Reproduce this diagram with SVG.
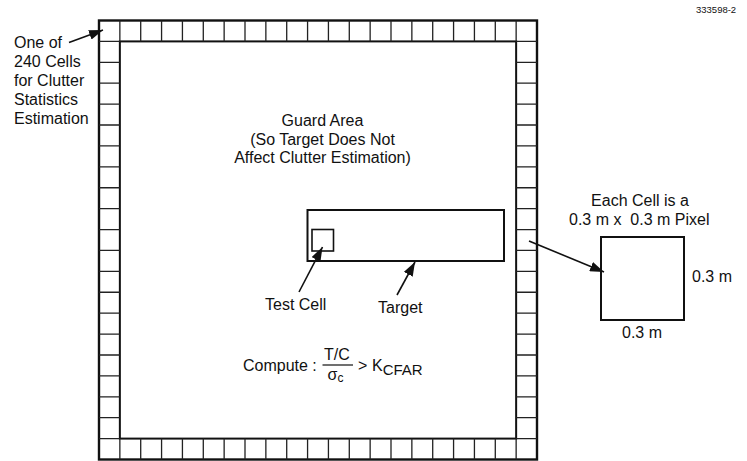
<svg xmlns="http://www.w3.org/2000/svg" width="747" height="461" viewBox="0 0 747 461">
<style>
text{font-family:"Liberation Sans",Arial,sans-serif;font-size:16px;fill:#111}
.box{fill:none;stroke:#111;stroke-width:2}
.div{fill:none;stroke:#222;stroke-width:1.3}
.arrow{fill:none;stroke:#111;stroke-width:1.6;marker-end:url(#ah)}
.pre{white-space:pre}
</style>
<defs>
<marker id="ah" markerUnits="userSpaceOnUse" markerWidth="14" markerHeight="10" refX="14" refY="5" orient="auto">
<path d="M0,0 L14,5 L0,10 z" fill="#111"/>
</marker>
</defs>
<rect width="747" height="461" fill="#fff"/>
<text x="696" y="13" style="font-size:9.5px">333598-2</text>

<g id="cell-border">
<rect x="99" y="20.5" width="438" height="439" fill="none" stroke="#111" stroke-width="2.4"/>
<rect x="119.86" y="41.4" width="396.28" height="397.2" class="box"/>
<path class="div" d="M119.86,20.5V41.4M140.71,20.5V41.4M161.57,20.5V41.4M182.43,20.5V41.4M203.29,20.5V41.4M224.14,20.5V41.4M245,20.5V41.4M265.86,20.5V41.4M286.71,20.5V41.4M307.57,20.5V41.4M328.43,20.5V41.4M349.29,20.5V41.4M370.14,20.5V41.4M391,20.5V41.4M411.86,20.5V41.4M432.71,20.5V41.4M453.57,20.5V41.4M474.43,20.5V41.4M495.29,20.5V41.4M516.14,20.5V41.4
M119.86,438.6V459.5M140.71,438.6V459.5M161.57,438.6V459.5M182.43,438.6V459.5M203.29,438.6V459.5M224.14,438.6V459.5M245,438.6V459.5M265.86,438.6V459.5M286.71,438.6V459.5M307.57,438.6V459.5M328.43,438.6V459.5M349.29,438.6V459.5M370.14,438.6V459.5M391,438.6V459.5M411.86,438.6V459.5M432.71,438.6V459.5M453.57,438.6V459.5M474.43,438.6V459.5M495.29,438.6V459.5M516.14,438.6V459.5
M99,41.4H119.86M99,62.31H119.86M99,83.21H119.86M99,104.12H119.86M99,125.02H119.86M99,145.93H119.86M99,166.83H119.86M99,187.74H119.86M99,208.64H119.86M99,229.55H119.86M99,250.45H119.86M99,271.36H119.86M99,292.26H119.86M99,313.17H119.86M99,334.07H119.86M99,354.98H119.86M99,375.88H119.86M99,396.79H119.86M99,417.69H119.86M99,438.6H119.86
M516.14,41.4H537M516.14,62.31H537M516.14,83.21H537M516.14,104.12H537M516.14,125.02H537M516.14,145.93H537M516.14,166.83H537M516.14,187.74H537M516.14,208.64H537M516.14,229.55H537M516.14,250.45H537M516.14,271.36H537M516.14,292.26H537M516.14,313.17H537M516.14,334.07H537M516.14,354.98H537M516.14,375.88H537M516.14,396.79H537M516.14,417.69H537M516.14,438.6H537"/>
</g>

<g id="cells-label">
<text x="14" y="48">One of</text>
<text x="14" y="67">240 Cells</text>
<text x="14" y="86">for Clutter</text>
<text x="14" y="105">Statistics</text>
<text x="14" y="124">Estimation</text>
</g>

<g id="guard-area" text-anchor="middle">
<text x="322.5" y="126">Guard Area</text>
<text x="322.5" y="144.5">(So Target Does Not</text>
<text x="322.5" y="163">Affect Clutter Estimation)</text>
</g>

<g id="target">
<rect x="307.5" y="210" width="196.5" height="51" class="box"/>
</g>
<g id="test-cell">
<rect x="312" y="229.5" width="21.5" height="21.5" fill="none" stroke="#111" stroke-width="1.6"/>
</g>
<g id="test-cell-label"><text x="265" y="310">Test Cell</text></g>
<g id="target-label"><text x="378" y="313">Target</text></g>

<g id="pixel">
<text x="640" y="206" text-anchor="middle">Each Cell is a</text>
<text x="569" y="225" class="pre">0.3 m x  0.3 m Pixel</text>
<rect x="601" y="237" width="83" height="83" class="box"/>
<text x="692" y="282">0.3 m</text>
<text x="622" y="338">0.3 m</text>
</g>

<g id="formula">
<text x="243" y="371">Compute :</text>
<text x="324" y="360">T/C</text>
<line x1="322.5" y1="365" x2="353" y2="365" stroke="#111" stroke-width="1.2"/>
<text x="327.5" y="380">σ<tspan style="font-size:12px" dy="2">c</tspan></text>
<text x="358" y="371">&gt;</text>
<text x="372" y="371">K<tspan style="font-size:15px" dy="4">CFAR</tspan></text>
</g>

<g id="connectors">
<path class="arrow" d="M69,42.5 L103,30"/>
<path class="arrow" d="M299,292 L322.5,247"/>
<path class="arrow" d="M397,295 L415,262"/>
<path class="arrow" d="M529,241 L604,272"/>
</g>
</svg>
